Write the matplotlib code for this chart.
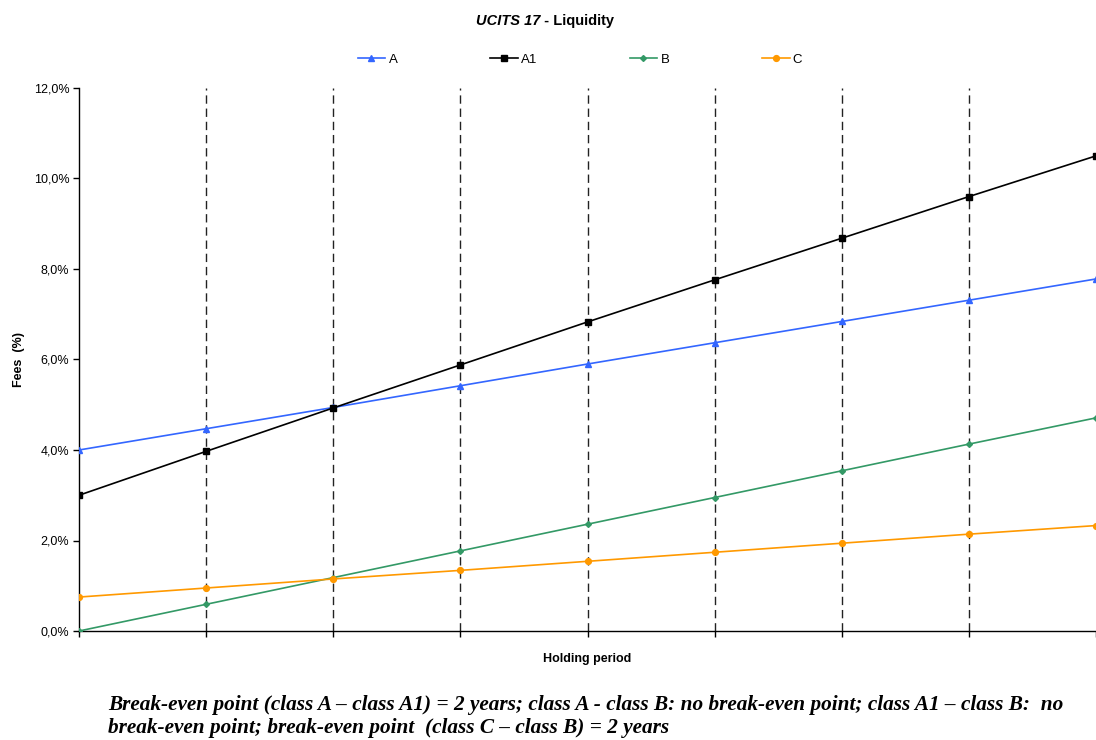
import numpy as np
import matplotlib.pyplot as plt
from matplotlib.ticker import FuncFormatter

# holding period steps (no labels shown on the axis)
periods = np.arange(9)

# fees in % per share class
fees_a = [4.00, 4.47, 4.94, 5.42, 5.90, 6.37, 6.84, 7.31, 7.78]
fees_a1 = [3.00, 3.97, 4.93, 5.88, 6.83, 7.76, 8.68, 9.60, 10.50]
fees_b = [0.00, 0.59, 1.18, 1.77, 2.36, 2.95, 3.54, 4.13, 4.71]
fees_c = [0.75, 0.95, 1.15, 1.34, 1.54, 1.74, 1.94, 2.14, 2.33]

yticks = [0, 2, 4, 6, 8, 10, 12]

plt.rcParams['font.family'] = ['Liberation Sans', 'DejaVu Sans']

fig = plt.figure(figsize=(10.96, 7.40), dpi=100)
ax = fig.add_axes([79 / 1096, 1 - 631 / 740, 1 - 79 / 1096, (631 - 88) / 740])

# vertical dashed separators
for p in periods[1:-1]:
    ax.axvline(p, color='#222222', lw=1, ls=(0, (6, 3.5)), zorder=1)

ax.plot(periods, fees_a, color='#3366FF', marker='^', ms=4.5, lw=1.2, label='A', zorder=3)
ax.plot(periods, fees_a1, color='black', marker='s', ms=4, lw=1.2, label='A1', zorder=3)
ax.plot(periods, fees_b, color='#339966', marker='D', ms=3, lw=1.2, label='B', zorder=3)
ax.plot(periods, fees_c, color='#FF9900', marker='o', ms=4.2, lw=1.2, label='C', zorder=3)

ax.set_xlim(0, 8)
ax.set_ylim(0, 12)
ax.set_xticks(periods)
ax.set_xticklabels([])
ax.set_yticks(yticks)
ax.yaxis.set_major_formatter(FuncFormatter(lambda v, pos: f"{v:.1f}%".replace('.', ',')))
ax.tick_params(axis='both', direction='out', length=4, width=1, color='black', labelsize=9)
ax.tick_params(axis='y', pad=3)

for side in ['top', 'right']:
    ax.spines[side].set_visible(False)
for side in ['left', 'bottom']:
    ax.spines[side].set_color('black')
    ax.spines[side].set_linewidth(1)

ax.set_ylabel('Fees  (%)', fontsize=9, fontweight='bold', labelpad=6)
ax.set_xlabel('Holding period', fontsize=9, fontweight='bold', labelpad=8)

# title: italic series name + plain part
fig.text(540 / 1096, 1 - 25 / 740, 'UCITS 17', fontsize=10.5, fontweight='bold',
         fontstyle='italic', ha='right', va='baseline')
fig.text(540 / 1096, 1 - 25 / 740, ' - Liquidity', fontsize=10.5, fontweight='bold',
         ha='left', va='baseline')

fig.legend(loc='center', bbox_to_anchor=(580 / 1096, 1 - 60 / 740), ncol=4,
           frameon=False, fontsize=9.5, handlelength=2.1, handletextpad=0.25,
           columnspacing=7.0)

note = ('Break-even point (class A \u2013 class A1) = 2 years; class A - class B: no break-even point; '
        'class A1 \u2013 class B:  no\nbreak-even point; break-even point  (class C \u2013 class B) = 2 years')
fig.text(108 / 1096, 1 - 695 / 740, note, family='Liberation Serif', fontsize=15.3,
         fontweight='bold', fontstyle='italic', ha='left', va='top', linespacing=1.2)

fig.savefig('out.png', dpi=100)
